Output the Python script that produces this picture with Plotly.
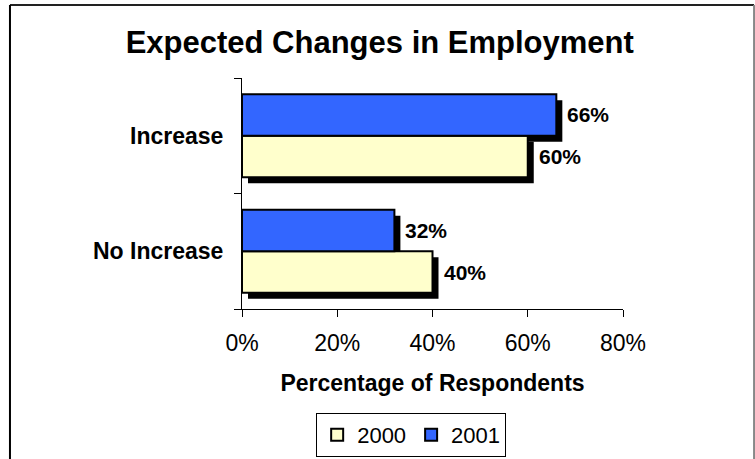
import plotly.graph_objects as go

# ---- data ----
categories = ["Increase", "No Increase"]
years = ["2000", "2001"]
values_2000 = [60, 40]
values_2001 = [66, 32]
labels_2000 = ["60%", "40%"]
labels_2001 = ["66%", "32%"]
x_ticks = [0, 20, 40, 60, 80]
x_tick_labels = ["0%", "20%", "40%", "60%", "80%"]

# ---- styling ----
FONT = "Liberation Sans, Arial, sans-serif"
C2000 = "#FFFFCC"
C2001 = "#3366FF"
BAR_W = 0.36
SHADOW_X = 1.26     # data units (~6px)
SHADOW_Y = 0.052    # category units (~6px)

series = [
    ("2000", values_2000, labels_2000, C2000, -BAR_W),
    ("2001", values_2001, labels_2001, C2001, 0.0),
]

fig = go.Figure()

# shadows
for name, vals, _, _, off in series:
    fig.add_trace(go.Bar(
        y=categories, x=vals, base=[SHADOW_X] * len(vals), orientation="h",
        width=BAR_W, offset=off - SHADOW_Y,
        marker=dict(color="black", line=dict(width=0)),
        showlegend=False, hoverinfo="skip",
    ))

# main bars
for name, vals, _, col, off in series:
    fig.add_trace(go.Bar(
        y=categories, x=vals, name=name, orientation="h",
        width=BAR_W, offset=off,
        marker=dict(color=col, line=dict(color="black", width=2)),
    ))

# value labels
cat_index = {c: i for i, c in enumerate(reversed(categories))}
for name, vals, labs, _, off in series:
    for c, v, t in zip(categories, vals, labs):
        fig.add_annotation(
            x=v + SHADOW_X, y=cat_index[c] + off + BAR_W / 2,
            xref="x", yref="y", text=t, showarrow=False,
            xanchor="left", yanchor="middle", xshift=3,
            font=dict(family=FONT, size=21, color="black", weight="bold"),
        )

# outer border
fig.add_shape(type="line", xref="paper", yref="paper",
              x0=-0.609, x1=1.344, y0=1.316, y1=1.316,
              line=dict(color="#222222", width=2))
fig.add_shape(type="line", xref="paper", yref="paper",
              x0=-0.609, x1=-0.609, y0=1.316, y1=-1.0,
              line=dict(color="black", width=2))
fig.add_shape(type="line", xref="paper", yref="paper",
              x0=1.344, x1=1.344, y0=1.316, y1=-1.0,
              line=dict(color="#888888", width=2))

fig.update_layout(
    width=755, height=459,
    margin=dict(l=242, r=132, t=78, b=150, autoexpand=False),
    paper_bgcolor="white", plot_bgcolor="white",
    barmode="overlay",
    title=dict(text="<b>Expected Changes in Employment</b>",
               x=0.503, xref="container", xanchor="center",
               y=1 - 42 / 459, yref="container", yanchor="middle",
               font=dict(family=FONT, size=31, color="black")),
    font=dict(family=FONT, color="black"),
    xaxis=dict(range=[0, 80], tickvals=x_ticks, ticktext=x_tick_labels,
               showgrid=False, zeroline=False, showline=True,
               linecolor="black", linewidth=1, automargin=False,
               ticks="outside", ticklen=7, tickcolor="black",
               ticklabelstandoff=6,
               tickfont=dict(family=FONT, size=23, color="black"),
               title=dict(text="<b>Percentage of Respondents</b>",
                          font=dict(family=FONT, size=23, color="black"),
                          standoff=20)),
    yaxis=dict(type="category", categoryorder="array",
               categoryarray=list(reversed(categories)),
               range=[-0.5, 1.5], tickson="boundaries",
               showgrid=False, zeroline=False, showline=True,
               linecolor="black", linewidth=1, automargin=False,
               ticks="outside", ticklen=7, tickcolor="black",
               ticklabelstandoff=13,
               tickfont=dict(family=FONT, size=23, color="black", weight="bold")),
    legend=dict(orientation="h", x=0.444, xanchor="center",
                y=-0.45, yanchor="top",
                bordercolor="black", borderwidth=1,
                font=dict(family=FONT, size=22, color="black"),
                itemwidth=30, traceorder="normal"),
)

fig.write_html("out.html")
